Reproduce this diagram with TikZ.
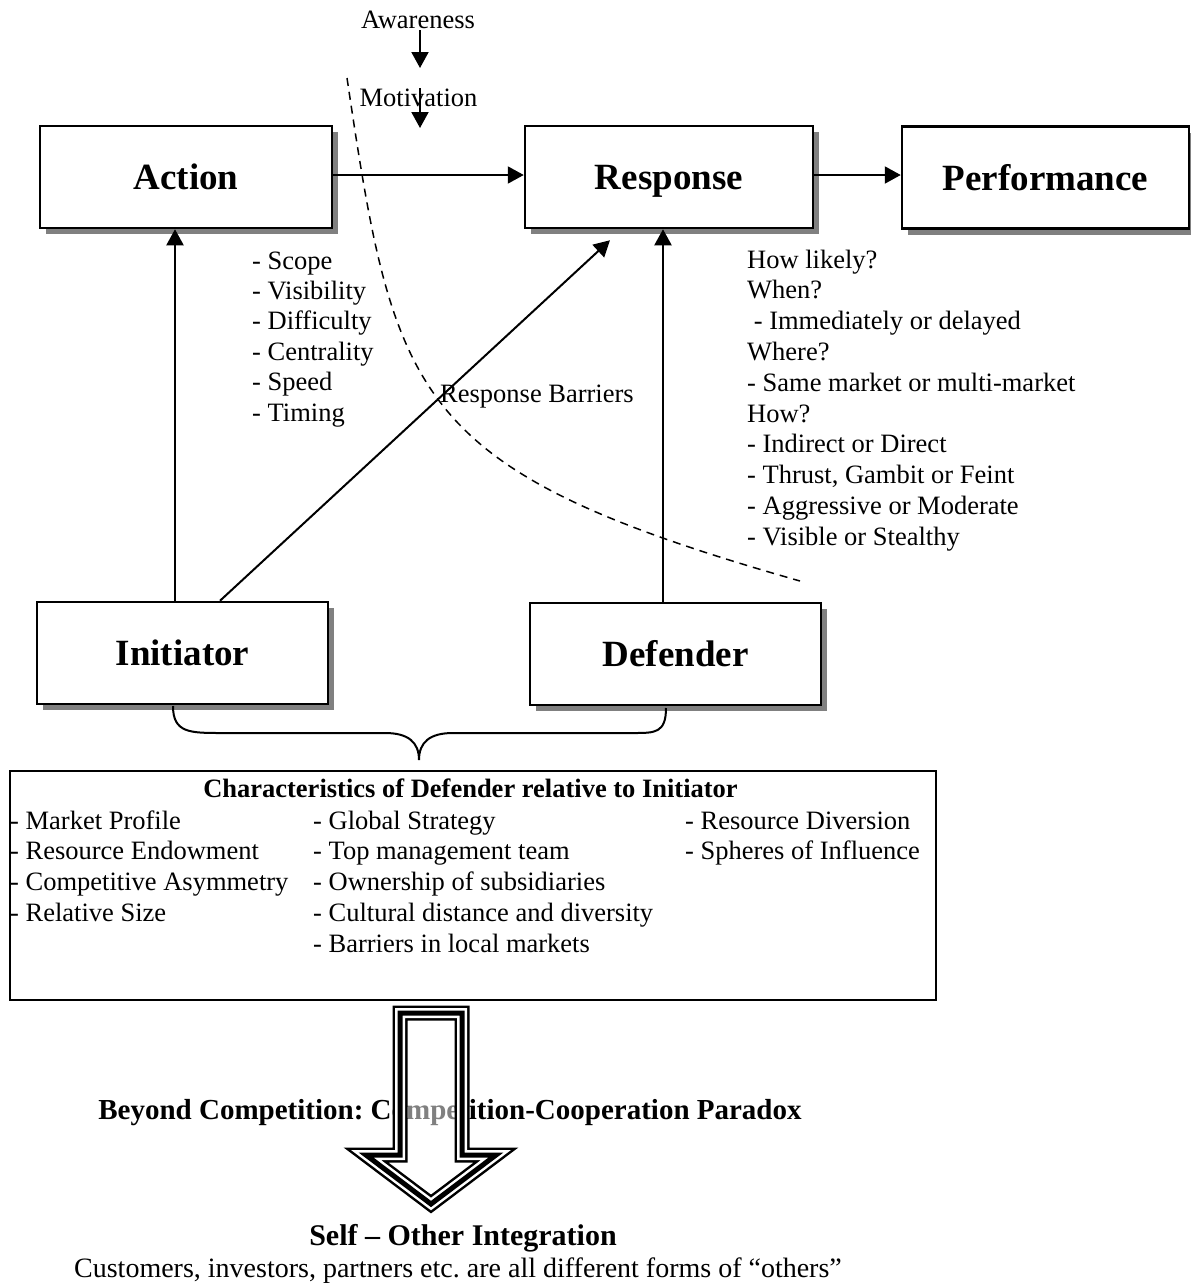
\documentclass[tikz,border=0pt]{standalone}
\usepackage{fontspec}
\setmainfont{Liberation Serif}
\usetikzlibrary{arrows.meta,shadows,calc}
\frenchspacing
\begin{document}
\begin{tikzpicture}[x=1pt,y=-1pt,
  box/.style={draw=black,line width=2.5pt,fill=white,minimum width=#1,minimum height=102pt,inner sep=0pt,
    text height=25pt,text depth=0pt,
    font=\fontsize{37}{44}\selectfont\bfseries,
    drop shadow={shadow xshift=6pt,shadow yshift=-6pt,fill=black!50,opacity=1}},
  box/.default=292pt,
  arr/.style={line width=2pt,-{Triangle[width=17pt,length=16pt]}},
  txt/.style={font=\fontsize{26.5}{31}\selectfont,inner sep=0pt,anchor=base west},
  ctxt/.style={font=\fontsize{26.5}{31}\selectfont,inner sep=0pt,anchor=base},
  btxt/.style={font=\fontsize{26.5}{31}\selectfont\bfseries,inner sep=0pt,anchor=base},
  htxt/.style={font=\fontsize{29}{34}\selectfont\bfseries,inner sep=0pt,anchor=base},
  barrier/.style={line width=1.5pt,dash pattern=on 8pt off 6pt},
  bigarrow/.style={line width=#1,line join=miter,miter limit=10}
]
\useasboundingbox (0,0) rectangle (1191,1286);

% dashed response-barrier curve
\draw[barrier] (347,78) .. controls (395,400) and (410,470) .. (800,581);

% boxes
\node[box] (action) at (186,177) {Action};
\node[box=288pt] (response) at (669,177) {Response};
\node[box=287pt] (performance) at (1045.5,177.5) {Performance};
\node[box=291pt] (initiator) at (182.5,653) {Initiator};
\node[box=291pt] (defender) at (675.5,654) {Defender};

% awareness / motivation
\node[ctxt] (aw) at (418,28) {Awareness};
\node[ctxt] (mo) at (418.5,106) {Motivation};
\coordinate (aw1) at (420,30);
\coordinate (aw2) at (420,68);
\coordinate (mo1) at (420,88);
\coordinate (mo2) at (420,128);
\draw[arr] (aw1) -- (aw2);
\draw[arr] (mo1) -- (mo2);

% connectors
\draw[arr] (action.east |- 0,175) -- (response.west |- 0,175);
\draw[arr] (response.east |- 0,175) -- (performance.west |- 0,175);
\coordinate (iv) at ($(initiator.north)+(-7.5,0)$);
\draw[arr] (iv) -- (iv |- action.south);
\coordinate (id) at ($(initiator.north)+(37.5,0)$);
\coordinate (rd) at ($(response.south)+(-59,11)$);
\draw[arr] (id) -- (rd);
\coordinate (dv) at ($(defender.north)+(-12.5,0)$);
\draw[arr] (dv) -- (dv |- response.south);

% action attributes
\foreach \t [count=\i] in {- Scope,- Visibility,- Difficulty,- Centrality,- Speed,- Timing}
  \node[txt] (att\i) at (252,{269+30.4*(\i-1)}) {\t};

\node[txt] (barriers) at (440,402) {Response Barriers};

% response questions
\foreach \t [count=\i] in {How likely?,When?,{\ - Immediately or delayed},Where?,- Same market or multi-market,How?,- Indirect or Direct,{- Thrust, Gambit or Feint},- Aggressive or Moderate,- Visible or Stealthy}
  \node[txt] (q\i) at (747,{268+30.8*(\i-1)}) {\t};

% brace
\coordinate (bl) at (173,706);
\coordinate (br) at (666,708);
\coordinate (btip) at (419,760);
\draw[line width=2pt] (bl) .. controls (173,733) and (190,733) .. (222,733) -- (385,733)
  .. controls (408,733) and (419,742) .. (btip)
  .. controls (419,742) and (430,733) .. (453,733) -- (634,733)
  .. controls (655,733) and (666,733) .. (br);

% characteristics box
\node[draw,line width=2pt,minimum width=926pt,minimum height=229pt,anchor=north west,inner sep=0pt] (charbox) at (9,770) {};
\node[btxt] (chartitle) at (470.5,797) {Characteristics of Defender relative to Initiator};
\foreach \t [count=\i] in {- Market Profile,- Resource Endowment,- Competitive Asymmetry,- Relative Size}
  \node[txt] (ca\i) at (10,{829+30.8*(\i-1)}) {\t};
\foreach \t [count=\i] in {- Global Strategy,- Top management team,- Ownership of subsidiaries,- Cultural distance and diversity,- Barriers in local markets}
  \node[txt] (cb\i) at (313,{829+30.8*(\i-1)}) {\t};
\foreach \t [count=\i] in {- Resource Diversion,- Spheres of Influence}
  \node[txt] (cc\i) at (685,{829+30.8*(\i-1)}) {\t};

% beyond competition
\node[htxt] (beyond) at (450,1119) {Beyond Competition: Competition-Cooperation Paradox};

% big arrow
\path[fill=white,fill opacity=0.5] (400,1013) -- (462,1013) -- (462,1155) -- (496,1155) -- (431,1204) -- (366,1155) -- (400,1155) -- cycle;
\foreach \w/\c in {15pt/black,10pt/white,5pt/black}
  \draw[bigarrow=\w,draw=\c] (400,1013) -- (462,1013) -- (462,1155) -- (496,1155) -- (431,1204) -- (366,1155) -- (400,1155) -- cycle;

\node[htxt,font=\fontsize{30}{35}\selectfont\bfseries] (selfother) at (463,1245) {Self – Other Integration};
\node[ctxt,font=\fontsize{28}{33}\selectfont] (customers) at (458,1277) {Customers, investors, partners etc. are all different forms of “others”};
\end{tikzpicture}
\end{document}
